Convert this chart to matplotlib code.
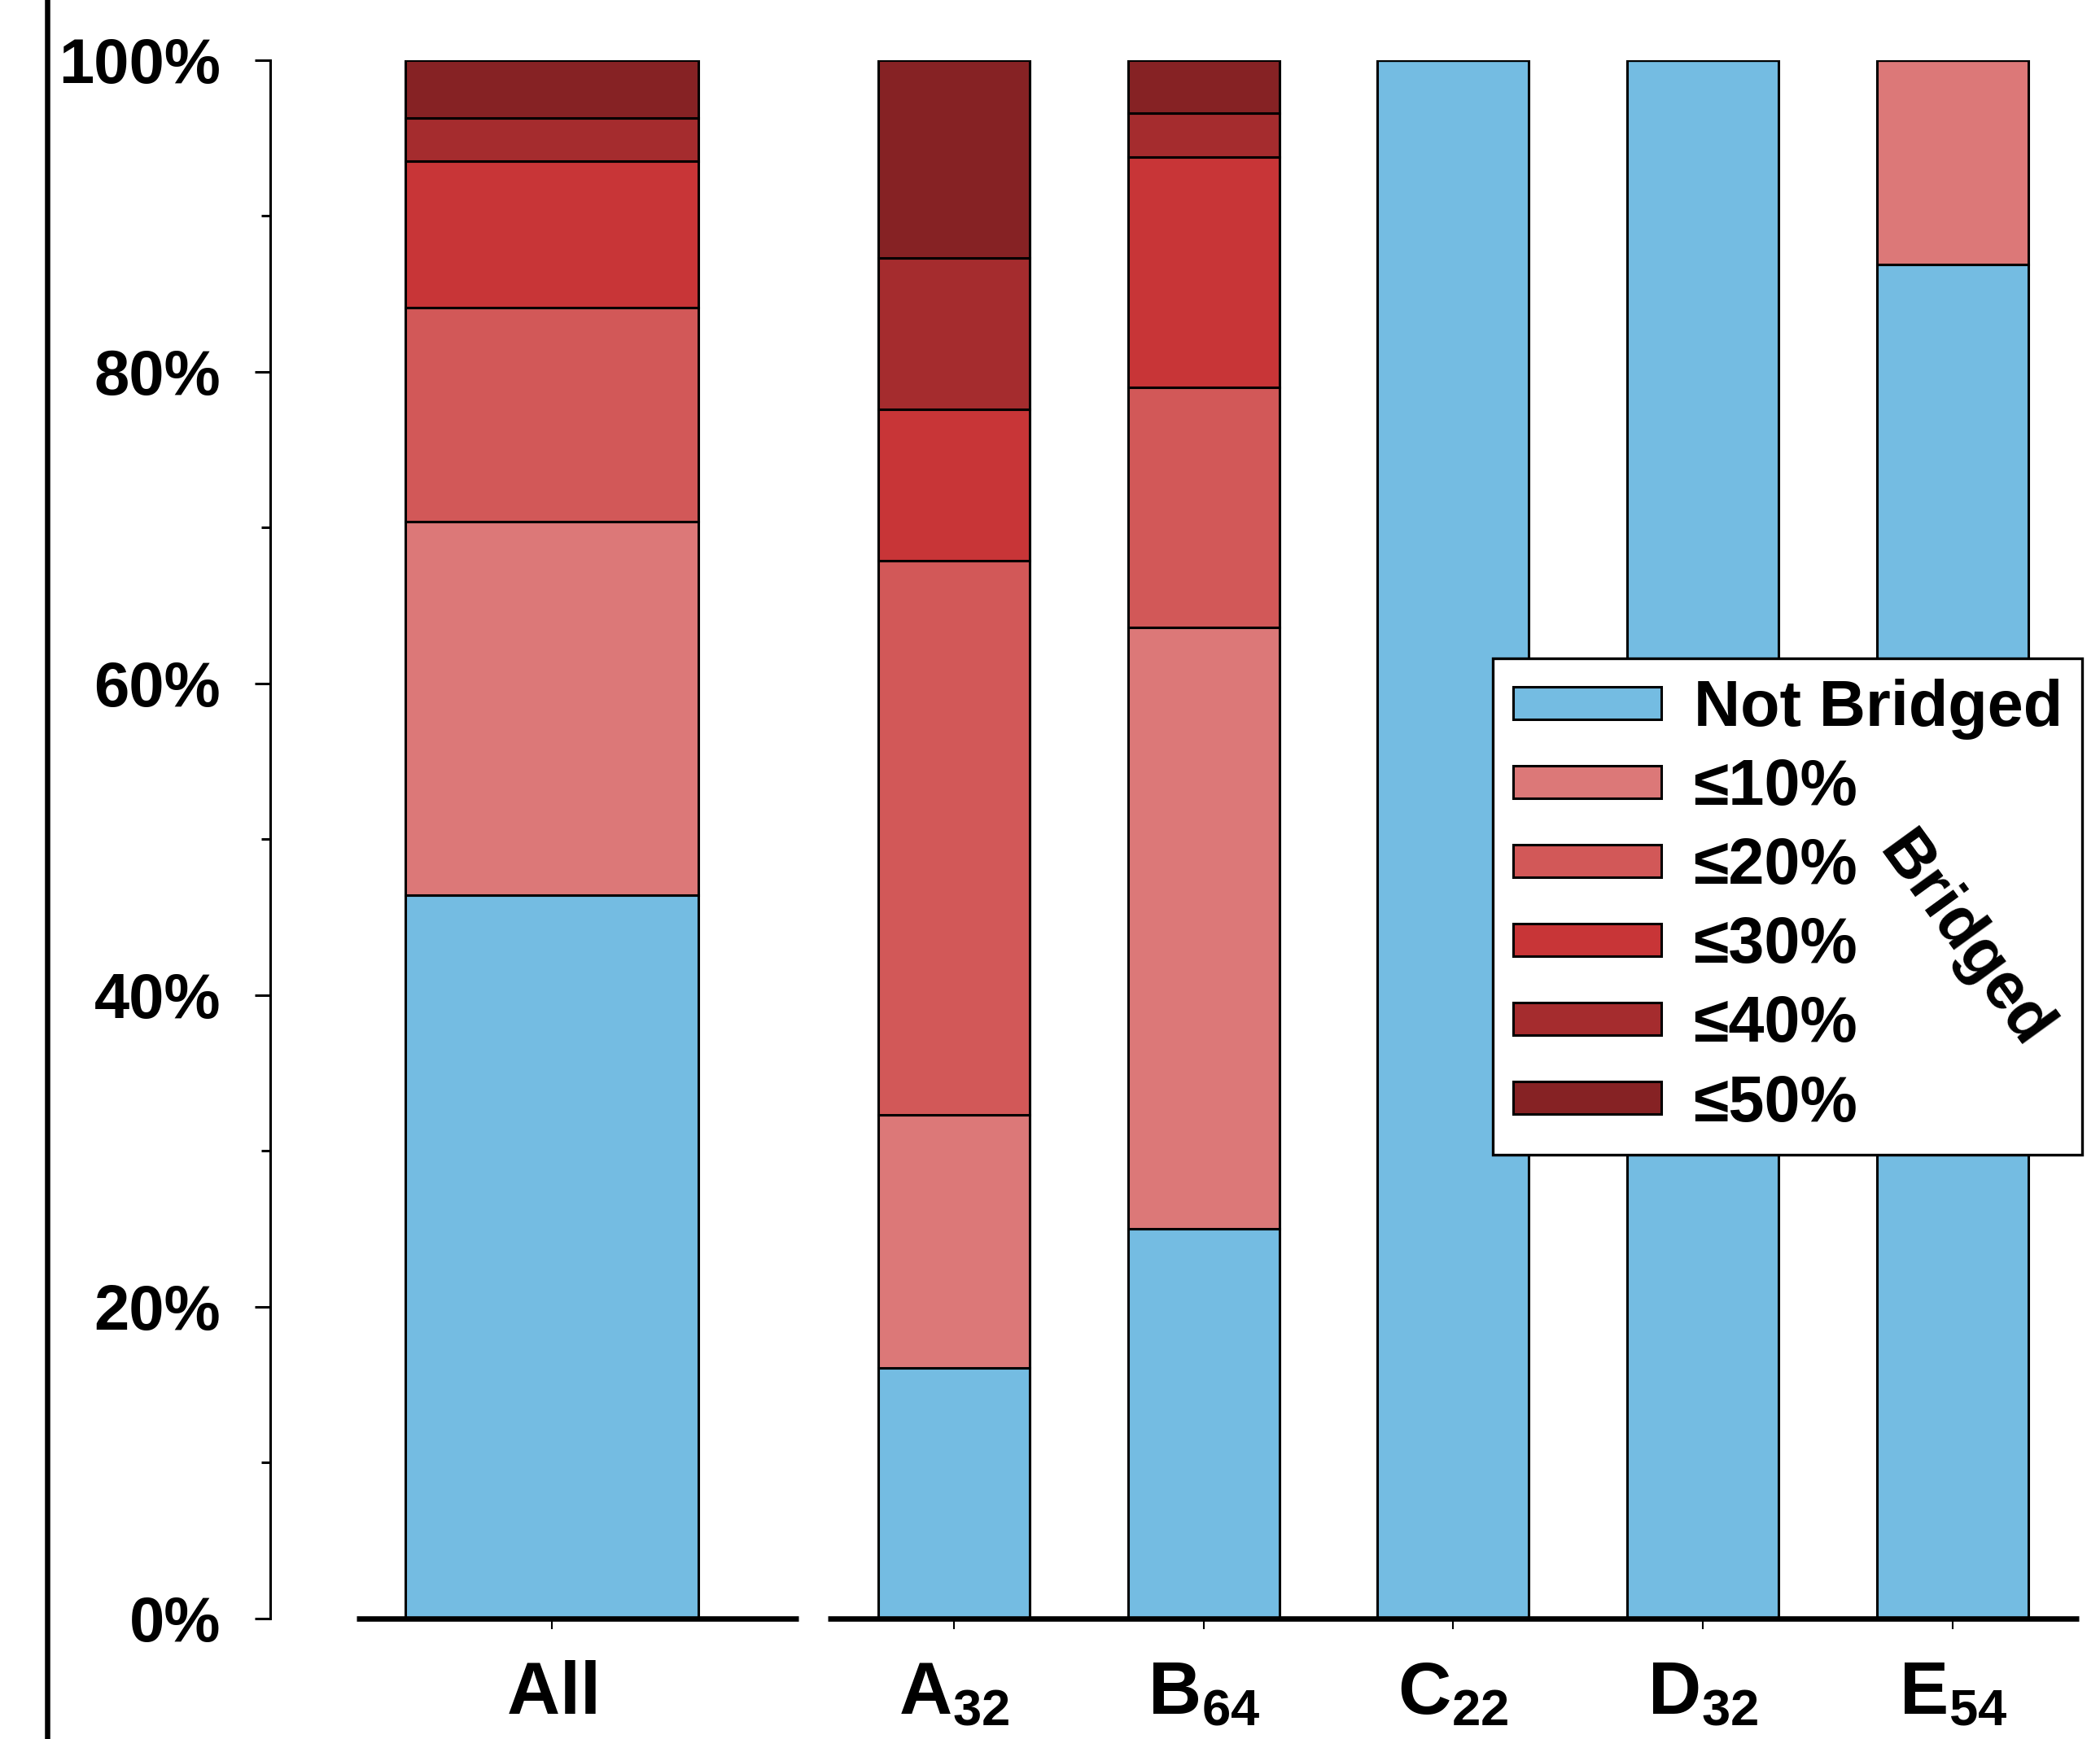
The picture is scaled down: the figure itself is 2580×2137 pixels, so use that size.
import numpy as np
import matplotlib
matplotlib.use("Agg")
import matplotlib.pyplot as plt
from matplotlib.lines import Line2D

# ---------------- data ----------------
categories = ["All", "A", "B", "C", "D", "E"]
subscripts = ["", "32", "64", "22", "32", "54"]
series_labels = ["Not Bridged", "≤10%", "≤20%", "≤30%", "≤40%", "≤50%"]
not_bridged = [46.4, 16.1, 25.0, 100.0, 100.0, 86.9]
le10 = [24.0, 16.2, 38.6, 0.0, 0.0, 13.1]
le20 = [13.7, 35.6, 15.4, 0.0, 0.0, 0.0]
le30 = [9.4, 9.7, 14.8, 0.0, 0.0, 0.0]
le40 = [2.8, 9.7, 2.8, 0.0, 0.0, 0.0]
le50 = [3.7, 12.7, 3.4, 0.0, 0.0, 0.0]
y_ticks = [0, 20, 40, 60, 80, 100]
y_ticklabels = ["0%", "20%", "40%", "60%", "80%", "100%"]

colors = ["#74BCE2", "#DC7878", "#D25858", "#C83537", "#A52C2E", "#862224"]

# ---------------- style ----------------
plt.rcParams["font.family"] = ["Liberation Sans", "DejaVu Sans"]
plt.rcParams["font.weight"] = "bold"
plt.rcParams["mathtext.fontset"] = "custom"
plt.rcParams["mathtext.rm"] = "Liberation Sans:bold"
plt.rcParams["mathtext.it"] = "Liberation Sans:bold"
plt.rcParams["mathtext.bf"] = "Liberation Sans:bold"

fig = plt.figure(figsize=(25.8, 21.37), dpi=100)
ax = fig.add_axes([0.1288, 0.0693, 0.9898 - 0.1288, 0.9654 - 0.0693])

# layout
gap = 1.61
x_pos = np.concatenate([[0.0], gap + np.arange(5)])
widths = np.array([1.174] + [0.606] * 5)

series = [not_bridged, le10, le20, le30, le40, le50]
bottom = np.zeros(len(categories))
for vals, lab, col in zip(series, series_labels, colors):
    vals = np.asarray(vals, dtype=float)
    ax.bar(x_pos, vals, width=widths, bottom=bottom, color=col,
           edgecolor="black", linewidth=2.2, label=lab, zorder=2)
    bottom += vals

xlim_left = x_pos[0] - 1.126
xlim_right = x_pos[1] + 4.504
ax.set_xlim(xlim_left, xlim_right)
ax.set_ylim(0, 100)

# spines
for s in ["top", "right", "bottom"]:
    ax.spines[s].set_visible(False)
ax.spines["left"].set_linewidth(2.2)

# broken x axis line
ax.plot([x_pos[0] - 0.783, x_pos[0] + 0.987], [0, 0], color="black",
        lw=4.8, solid_capstyle="butt", clip_on=False, zorder=5)
ax.plot([x_pos[1] - 0.505, xlim_right], [0, 0], color="black",
        lw=4.8, solid_capstyle="butt", clip_on=False, zorder=5)

# y ticks
ax.set_yticks(y_ticks)
ax.set_yticklabels(y_ticklabels, fontsize=56, fontweight="bold")
ax.set_yticks(np.arange(10, 100, 20), minor=True)
ax.tick_params(axis="y", which="major", direction="out", length=14,
               width=2.2, pad=30)
ax.tick_params(axis="y", which="minor", direction="out", length=8,
               width=2.2)

# x ticks
xlabels = [r"$\mathrm{%s}$" % c if not s else r"$\mathrm{%s}_{%s}$" % (c, s)
           for c, s in zip(categories, subscripts)]
ax.set_xticks(x_pos)
ax.set_xticklabels(xlabels, fontsize=65)
ax.tick_params(axis="x", which="major", direction="out", length=9,
               width=1.5, pad=28)

# legend
leg = ax.legend(loc="upper left", bbox_to_anchor=(0.711, 0.6213),
                bbox_transform=fig.transFigure, borderaxespad=0,
                fontsize=57, frameon=True, fancybox=False, framealpha=1,
                edgecolor="black", handlelength=2.3, handleheight=0.40,
                handletextpad=0.5, labelspacing=0.28, borderpad=0.31)
leg.get_frame().set_linewidth(2.4)
for t in leg.get_texts():
    t.set_fontweight("bold")

fig.text(0.935, 0.4588, "Bridged", rotation=-54, ha="center", va="center",
         fontsize=58, fontweight="bold", zorder=10, rotation_mode="anchor")

# thick vertical line at far left
fig.add_artist(Line2D([0.0223, 0.0223], [0, 1], transform=fig.transFigure,
                      color="black", lw=4.7))

fig.savefig("out.png", dpi=100)
